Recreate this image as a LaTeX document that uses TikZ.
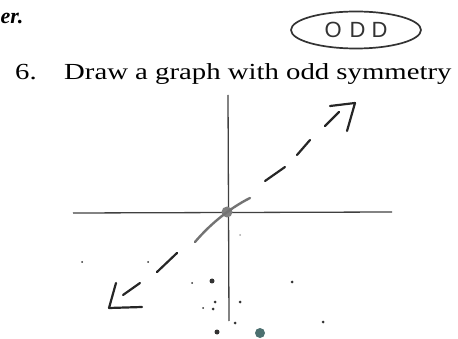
\documentclass[tikz,border=0pt]{standalone}
\usepackage{fontspec}
\setmainfont{Liberation Serif}
\newfontfamily\bookfont[FakeStretch=1.25]{Liberation Serif}
\newfontfamily\handfont{Liberation Sans}
\usetikzlibrary{calc,shapes.geometric}

\tikzset{
  axis/.style={line width=1.3pt, black!75},
  pen/.style={line width=2.2pt, black!85, line cap=round, line join=round},
  pencil/.style={line width=2.4pt, black!55, line cap=round},
  speck/.style={fill=black!80},
}

\begin{document}
\begin{tikzpicture}[x=1pt,y=-1pt]
  \useasboundingbox (0,0) rectangle (458,339);

  \node[font=\fontsize{22}{26}\selectfont\bfseries\itshape, anchor=base west, inner sep=0] (er) at (0.5,24) {er.};
  \node[font=\fontsize{23}{27}\bookfont, anchor=base west, inner sep=0] (num) at (15,80) {6.};
  \node[font=\fontsize{23}{27}\bookfont, anchor=base west, inner sep=0] (task) at (64,80) {Draw a graph with odd symmetry};

  % circled answer
  \node[draw, ellipse, line width=1.7pt, black!80, minimum width=130, minimum height=37, inner sep=0,
        font=\fontsize{22}{24}\handfont] (odd) at (356,30) {O\hspace{8pt}D\hspace{6pt}D};

  \coordinate (yT) at (228,95);
  \coordinate (yB) at (229,321);
  \coordinate (xL) at (73,213);
  \coordinate (xR) at (392,212);
  \coordinate (O) at (227,212);

  \draw[axis] (xL) -- (xR);
  \draw[axis] (yT) -- (yB);
  \fill[black!50] (O) circle (5.5);

  % sketched line
  \coordinate (A) at (195,242);
  \coordinate (B) at (250,198);
  \coordinate (C) at (265,181);
  \coordinate (D) at (285,167);
  \coordinate (E) at (297,155);
  \coordinate (F) at (310,140);
  \coordinate (G) at (325,126);
  \coordinate (H) at (339,112);
  \coordinate (P) at (330,106);
  \coordinate (Q) at (355,103);
  \coordinate (R) at (347,131);
  \draw[pencil] (A) .. controls (212,222) and (232,207) .. (B);
  \draw[pen] (C) -- (D);
  \draw[pen] (E) -- (F);
  \draw[pen] (G) -- (H);
  \draw[pen] (P) -- (Q) -- (R);

  \coordinate (S) at (157,272);
  \coordinate (T) at (177,253);
  \coordinate (U) at (123,295);
  \coordinate (V) at (140,283);
  \coordinate (W) at (116,283);
  \coordinate (X) at (109,308);
  \coordinate (Y) at (142,307);
  \draw[pen] (S) -- (T);
  \draw[pen] (U) -- (V);
  \draw[pen] (W) -- (X) -- (Y);

  % specks
  \foreach \px/\py/\r in {212/281/2.5, 192/283/1, 292/282/1.5, 215/302/1.5, 213/309/1.5,
      203/308/1, 240/302/1.5, 217/332/2.5, 235/323/1.5, 82/262/1, 148/262/1, 323/322/1.5}
    \fill[speck] (\px,\py) circle (\r);
  \fill[black!35] (240,235) circle (1);
  \fill[teal!40!black!70] (260,333) circle (5);
\end{tikzpicture}
\end{document}
